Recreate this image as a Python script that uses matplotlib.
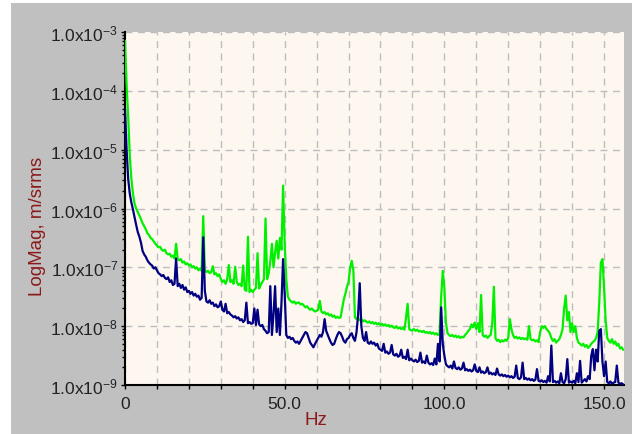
import numpy as np
import matplotlib.pyplot as plt
from matplotlib.patches import Rectangle
from matplotlib.ticker import FixedLocator, FuncFormatter, NullFormatter

plt.rcParams['font.family'] = ['Liberation Sans', 'DejaVu Sans']
plt.rcParams['mathtext.default'] = 'regular'

# spectrum lines, 0.5 Hz apart, values stored as log10(m/s rms)
df = 0.5
green_log = [
    -3.15, -3.90, -4.45, -5.10, -5.50, -5.75, -5.92, -6.00, -6.06, -6.12,
    -6.18, -6.25, -6.30, -6.35, -6.42, -6.45, -6.50, -6.52, -6.56, -6.60,
    -6.63, -6.66, -6.65, -6.70, -6.72, -6.70, -6.76, -6.78, -6.77, -6.82,
    -6.80, -6.85, -6.60, -6.86, -6.88, -6.86, -6.92, -6.90, -6.95, -6.93,
    -6.97, -6.95, -7.00, -6.98, -7.02, -7.00, -7.05, -7.02, -7.06, -6.13,
    -7.05, -7.08, -7.06, -7.10, -7.08, -6.98, -7.12, -7.10, -7.15, -7.12,
    -7.20, -7.25, -7.22, -7.28, -7.20, -6.96, -7.25, -7.22, -7.28, -6.99,
    -7.25, -7.30, -7.28, -7.32, -6.97, -7.38, -7.40, -6.48, -7.42, -7.38,
    -7.42, -7.38, -7.35, -6.76, -7.36, -7.30, -7.25, -7.20, -6.17, -7.20,
    -7.10, -6.90, -6.60, -7.00, -6.75, -6.55, -6.85, -6.50, -6.70, -5.61,
    -6.60, -7.20, -7.50, -7.55, -7.58, -7.60, -7.58, -7.62, -7.60, -7.60,
    -7.63, -7.62, -7.65, -7.68, -7.66, -7.70, -7.72, -7.70, -7.73, -7.75,
    -7.74, -7.72, -7.57, -7.75, -7.78, -7.76, -7.80, -7.78, -7.82, -7.80,
    -7.84, -7.82, -7.86, -7.84, -7.86, -7.85, -7.70, -7.55, -7.45, -7.33,
    -7.25, -7.00, -6.89, -7.05, -7.85, -7.88, -7.86, -7.90, -7.88, -7.92,
    -7.90, -7.92, -7.94, -7.92, -7.95, -7.93, -7.96, -7.94, -7.97, -7.95,
    -7.98, -7.96, -7.99, -7.97, -8.00, -7.98, -8.01, -7.99, -8.02, -8.03,
    -8.00, -8.04, -8.02, -8.05, -8.03, -8.06, -7.85, -7.62, -8.05, -8.07,
    -8.07, -8.05, -8.08, -8.06, -8.09, -8.08, -8.10, -8.08, -8.11, -8.10,
    -8.12, -8.10, -8.13, -8.11, -8.14, -8.12, -8.15, -8.13, -7.50, -7.06,
    -7.35, -7.95, -8.12, -8.15, -8.17, -8.15, -8.18, -8.16, -8.19, -8.17,
    -8.20, -8.18, -8.19, -8.15, -8.12, -8.08, -8.05, -7.97, -8.02, -7.94,
    -8.05, -7.95, -8.10, -7.47, -8.15, -8.18, -8.16, -8.20, -8.17, -8.15,
    -7.95, -7.33, -8.20, -8.25, -8.23, -8.27, -8.24, -8.26, -8.23, -8.25,
    -8.20, -7.88, -8.05, -8.15, -8.20, -8.18, -8.21, -8.19, -8.22, -8.20,
    -8.22, -8.21, -8.23, -8.00, -8.22, -8.24, -8.23, -8.26, -8.24, -8.27,
    -8.10, -8.00, -8.03, -8.00, -8.05, -8.08, -8.12, -8.20, -8.25, -8.22,
    -8.28, -8.25, -8.22, -8.15, -8.05, -7.70, -7.48, -7.90, -7.76, -8.10,
    -7.95, -8.10, -8.00, -8.20, -8.28, -8.30, -8.33, -8.30, -8.35, -8.32,
    -8.37, -8.34, -8.30, -8.27, -8.25, -8.20, -8.10, -7.60, -6.92, -6.86,
    -7.34, -7.90, -8.20, -8.25, -8.28, -8.22, -8.30, -8.26, -8.33, -8.30,
    -8.38, -8.36, -8.40,
]
navy_log = [
    -4.30, -5.00, -5.50, -5.75, -5.90, -6.02, -6.15, -6.28, -6.40, -6.48,
    -6.58, -6.72, -6.78, -6.82, -6.88, -6.92, -6.95, -6.97, -7.02, -7.00,
    -7.05, -7.10, -7.12, -7.15, -7.13, -7.18, -7.20, -7.17, -7.25, -7.22,
    -7.30, -7.28, -6.85, -7.32, -7.28, -7.35, -7.30, -7.38, -7.34, -7.42,
    -7.40, -7.45, -7.42, -7.48, -7.45, -7.50, -7.48, -7.55, -7.52, -6.49,
    -7.40, -7.58, -7.60, -7.56, -7.62, -7.60, -7.66, -7.63, -7.68, -7.66,
    -7.58, -7.72, -7.75, -7.62, -7.78, -7.76, -7.80, -7.82, -7.85, -7.83,
    -7.87, -7.85, -7.90, -7.88, -7.93, -7.90, -7.60, -7.95, -7.93, -7.96,
    -7.95, -7.70, -7.98, -7.72, -7.97, -8.00, -7.98, -8.05, -8.08, -8.12,
    -8.10, -7.32, -8.15, -7.80, -7.32, -8.10, -7.70, -8.15, -7.60, -6.86,
    -7.45, -8.15, -8.20, -8.18, -8.22, -8.20, -8.25, -8.28, -8.26, -8.30,
    -8.25, -8.20, -8.15, -8.10, -8.12, -8.20, -8.28, -8.32, -8.36, -8.30,
    -8.25, -8.20, -8.15, -8.18, -8.10, -7.88, -8.08, -8.15, -8.22, -8.28,
    -8.32, -8.30, -8.22, -8.15, -8.10, -8.12, -8.18, -8.25, -8.28, -8.22,
    -8.20, -8.15, -8.12, -8.20, -8.25, -8.10, -7.80, -7.27, -8.00, -8.20,
    -8.25, -8.10, -8.28, -8.30, -8.26, -8.30, -8.28, -8.33, -8.30, -8.38,
    -8.40, -8.42, -8.30, -8.45, -8.43, -8.47, -8.45, -8.32, -8.48, -8.50,
    -8.47, -8.52, -8.50, -8.40, -8.54, -8.52, -8.56, -8.40, -8.58, -8.55,
    -8.58, -8.60, -8.57, -8.61, -8.59, -8.45, -8.62, -8.60, -8.63, -8.50,
    -8.62, -8.65, -8.63, -8.66, -8.55, -8.65, -8.30, -8.60, -7.68, -8.30,
    -8.50, -8.65, -8.68, -8.70, -8.67, -8.72, -8.60, -8.71, -8.73, -8.70,
    -8.74, -8.72, -8.62, -8.75, -8.73, -8.76, -8.74, -8.77, -8.75, -8.65,
    -8.76, -8.78, -8.70, -8.79, -8.77, -8.80, -8.78, -8.70, -8.81, -8.79,
    -8.82, -8.80, -8.83, -8.72, -8.82, -8.84, -8.82, -8.85, -8.83, -8.86,
    -8.84, -8.87, -8.85, -8.88, -8.86, -8.67, -8.88, -8.90, -8.87, -8.62,
    -8.90, -8.88, -8.91, -8.89, -8.92, -8.90, -8.93, -8.91, -8.73, -8.93,
    -8.94, -8.92, -8.95, -8.93, -8.96, -8.85, -8.94, -8.33, -8.95, -8.93,
    -8.96, -8.94, -8.97, -8.80, -8.95, -8.97, -8.90, -8.56, -8.96, -8.94,
    -8.96, -8.93, -8.97, -8.80, -8.95, -8.59, -8.96, -8.93, -8.90, -8.94,
    -8.85, -8.90, -8.50, -8.39, -8.75, -8.40, -8.60, -8.08, -8.05, -8.60,
    -8.85, -8.60, -8.95, -8.97, -8.94, -8.98, -8.96, -8.95, -8.67, -8.96,
    -8.98, -8.97, -8.99,
]

xlabels = ['0', '50.0', '100.0', '150.0']
xlabel_at = [0, 50, 100, 150]
decades = [-9, -8, -7, -6, -5, -4, -3]
ylabel = 'LogMag, m/srms'
xlabel = 'Hz'

freq = np.arange(len(green_log)) * df
green = 10.0 ** np.array(green_log)
navy = 10.0 ** np.array(navy_log)

# grey panel, with thin white strips along the top and left edges
fig = plt.figure(figsize=(6.32, 4.35), dpi=100, facecolor='#c0c0c0')
fig.patches.append(Rectangle((0, 0), 11 / 632, 1, transform=fig.transFigure,
                             facecolor='white', edgecolor='none'))
fig.patches.append(Rectangle((0, 431 / 435), 1, 4 / 435, transform=fig.transFigure,
                             facecolor='white', edgecolor='none'))

ax = fig.add_axes([125 / 632, 49 / 435, 499 / 632, 353 / 435])
ax.set_zorder(2)
ax.set_facecolor('#fdf7f0')

ax.plot(freq, green, color='#00f000', lw=1.6, zorder=3)
ax.plot(freq, navy, color='#000080', lw=1.6, zorder=4)

ax.set_yscale('log')
ax.set_ylim(1e-9, 1e-3)
ax.set_xlim(0, 156.25)

# grid every 10 Hz, labels only every 50 Hz
ax.xaxis.set_major_locator(FixedLocator(np.arange(0, 160, 10)))
ax.xaxis.set_major_formatter(FuncFormatter(
    lambda v, p: xlabels[xlabel_at.index(int(round(v)))] if int(round(v)) in xlabel_at else ''))

# one labelled tick per decade, small ticks in between
major_y = [10.0 ** d for d in decades]
minor_y = [m * 10.0 ** d for d in decades[:-1] for m in range(2, 10)]
ax.yaxis.set_major_locator(FixedLocator(major_y))
ax.yaxis.set_minor_locator(FixedLocator(minor_y))
ax.yaxis.set_minor_formatter(NullFormatter())
ax.yaxis.set_major_formatter(FuncFormatter(
    lambda v, p: '1.0x10$^{%d}$' % int(round(np.log10(v)))))

ax.grid(True, which='major', color='#bdbdbd', ls=(0, (5, 4)), lw=1.0, zorder=1)
ax.tick_params(axis='both', which='major', labelsize=12.5, labelcolor='#222222',
               color='black', length=3, width=1)
ax.tick_params(axis='y', which='minor', length=2, width=1, color='black')
ax.tick_params(axis='x', which='major', pad=5)
ax.tick_params(axis='y', which='major', pad=2)

for side in ['top', 'right']:
    ax.spines[side].set_visible(False)
for side in ['left', 'bottom']:
    ax.spines[side].set_linewidth(1.5)
    ax.spines[side].set_color('black')

fig.text(37 / 632, 1 - 226 / 435, ylabel, rotation=90, color='#8b1a1a',
         fontsize=13.5, ha='center', va='center')
fig.text(316 / 632, 1 - 421 / 435, xlabel, color='#8b1a1a',
         fontsize=13.5, ha='center', va='center')

fig.savefig('out.png', dpi=100, facecolor=fig.get_facecolor())
